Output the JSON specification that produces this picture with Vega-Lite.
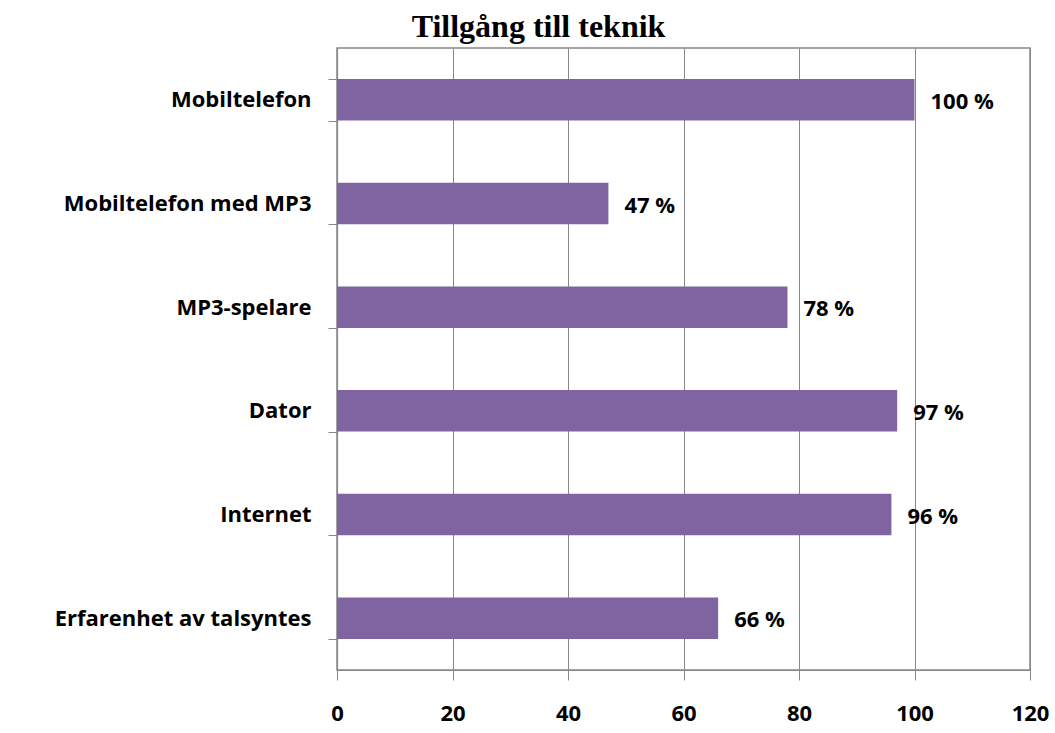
{
  "$schema": "https://vega.github.io/schema/vega-lite/v6.json",
  "autosize": "none",
  "width": 693,
  "height": 622,
  "padding": {"left": 337, "top": 48, "right": 25, "bottom": 63},
  "background": "white",
  "title": {
    "text": "Tillgång till teknik",
    "font": "Liberation Serif",
    "fontSize": 32,
    "fontWeight": "bold",
    "color": "black",
    "anchor": "middle",
    "dx": -145,
    "offset": -7
  },
  "config": {
    "view": {"stroke": "#888888", "strokeWidth": 1.5}
  },
  "data": {
    "values": [
      {"kategori": "Mobiltelefon", "andel": 100, "etikett": "100 %"},
      {"kategori": "Mobiltelefon med MP3", "andel": 47, "etikett": "47 %"},
      {"kategori": "MP3-spelare", "andel": 78, "etikett": "78 %"},
      {"kategori": "Dator", "andel": 97, "etikett": "97 %"},
      {"kategori": "Internet", "andel": 96, "etikett": "96 %"},
      {"kategori": "Erfarenhet av talsyntes", "andel": 66, "etikett": "66 %"}
    ]
  },
  "encoding": {
    "y": {
      "field": "kategori",
      "type": "nominal",
      "sort": null,
      "scale": {"paddingInner": 0.6, "paddingOuter": 0.3},
      "axis": {
        "title": null,
        "tickBand": "extent",
        "tickSize": 9,
        "tickColor": "#888888",
        "domainColor": "#888888",
        "domainWidth": 1.2,
        "labelFont": "Open Sans",
        "labelFontSize": 22,
        "labelFontWeight": "bold",
        "labelColor": "black",
        "labelPadding": 17,
        "labelLimit": 330,
        "labelOffset": 0,
        "grid": false
      }
    },
    "x": {
      "field": "andel",
      "type": "quantitative",
      "scale": {"domain": [0, 120], "nice": false},
      "axis": {
        "title": null,
        "values": [0, 20, 40, 60, 80, 100, 120],
        "tickSize": 10,
        "tickColor": "#888888",
        "domainColor": "#888888",
        "domainWidth": 1.2,
        "grid": true,
        "gridColor": "#888888",
        "gridWidth": 1,
        "labelFont": "Open Sans",
        "labelFontSize": 22,
        "labelFontWeight": "bold",
        "labelColor": "black",
        "labelPadding": 23,
        "labelFlush": false
      }
    }
  },
  "layer": [
    {"mark": {"type": "bar", "color": "#8064A2"}},
    {
      "mark": {
        "type": "text",
        "align": "left",
        "baseline": "middle",
        "dx": 16,
        "dy": 2,
        "font": "Open Sans",
        "fontSize": 22,
        "fontWeight": "bold",
        "color": "black"
      },
      "encoding": {"text": {"field": "etikett", "type": "nominal"}}
    }
  ]
}
